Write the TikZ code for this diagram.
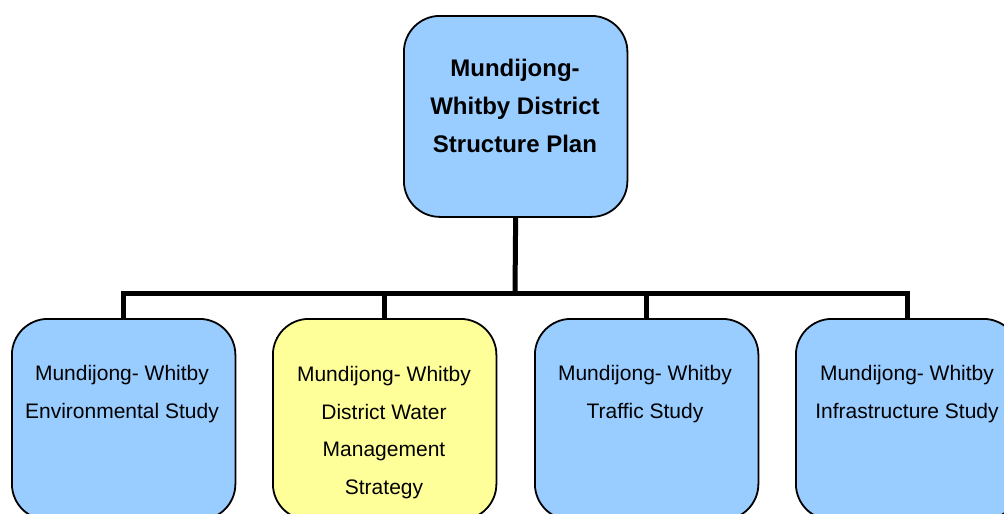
\documentclass[tikz,border=0pt]{standalone}
\usepackage{fontspec}
\setmainfont{Liberation Sans}
\usetikzlibrary{backgrounds}
\definecolor{boxblue}{HTML}{99CCFF}
\definecolor{boxyellow}{HTML}{FFFF99}
\tikzset{
  card/.style={draw=black, line width=1.8pt, rounded corners=36pt, minimum width=223.5pt, minimum height=201pt, inner sep=0pt, anchor=north west},
  bluecard/.style={card, fill=boxblue},
  yellowcard/.style={card, fill=boxyellow},
  title/.style={font=\fontsize{24}{38}\selectfont\bfseries, align=center, anchor=base, inner sep=0pt},
  body/.style={font=\fontsize{21}{37.4}\selectfont, align=center, anchor=base, inner sep=0pt},
  link/.style={line width=5pt, draw=black}
}
\begin{document}
\begin{tikzpicture}[x=1pt,y=-1pt]
\useasboundingbox (0,0) rectangle (1004,514);
\clip (0,0) rectangle (1004,514);
\node[bluecard] (top) at (403,15) {};
\node[bluecard] (b1) at (11,318) {};
\node[yellowcard] (b2) at (272,318) {};
\node[bluecard] (b3) at (534,318) {};
\node[bluecard] (b4) at (795,318) {};
\coordinate (bus) at (515,293);
\begin{scope}[on background layer]
\fill[white] (0,0) rectangle (1004,514);
\draw[link] (top.south) -- (bus);
\draw[link] (b1.north) |- (bus) -| (b4.north);
\draw[link] (b2.north) -- (b2.north |- bus);
\draw[link] (b3.north) -- (b3.north |- bus);
\end{scope}
\node[title] (t0) at (515,152) {Mundijong-\\Whitby District\\Structure Plan};
\node[body] (t1) at (122,418) {Mundijong- Whitby\\Environmental Study};
\node[body] (t2) at (384,494) {Mundijong- Whitby\\District Water\\Management\\Strategy};
\node[body] (t3) at (645,418) {Mundijong- Whitby\\Traffic Study};
\node[body] (t4) at (907,418) {Mundijong- Whitby\\Infrastructure Study};
\end{tikzpicture}
\end{document}
